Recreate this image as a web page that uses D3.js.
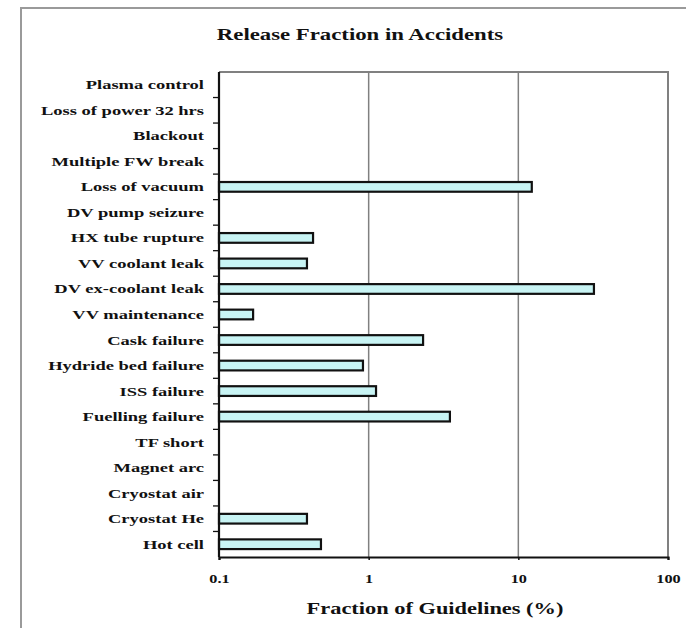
<!DOCTYPE html>
<html>
<head>
<meta charset="utf-8">
<script src="https://cdn.jsdelivr.net/npm/d3@7"></script>
<style>
  html, body { margin: 0; padding: 0; background: #fff; }
  svg { display: block; }
  text { font-family: "Liberation Serif", "Times New Roman", serif; font-weight: bold; fill: #111; }
</style>
</head>
<body>
<svg id="chart" width="686" height="628"></svg>
<script>
// Accident scenarios, top to bottom
const categories = [
  "Plasma control", "Loss of power 32 hrs", "Blackout", "Multiple FW break",
  "Loss of vacuum", "DV pump seizure", "HX tube rupture", "VV coolant leak",
  "DV ex-coolant leak", "VV maintenance", "Cask failure", "Hydride bed failure",
  "ISS failure", "Fuelling failure", "TF short", "Magnet arc", "Cryostat air",
  "Cryostat He", "Hot cell"
];
// Release as a fraction of guidelines (%); null = no release shown
const releaseValues = [
  null, null, null, null,
  12.3, null, 0.425, 0.387,
  32, 0.169, 2.31, 0.916,
  1.12, 3.49, null, null, null,
  0.387, 0.48
];
const xTickValues = [0.1, 1, 10, 100];
const xTickLabels = ["0.1", "1", "10", "100"];
const gridValues = [1, 10];

const chartTitle = "Release Fraction in Accidents";
const xAxisTitle = "Fraction of Guidelines (%)";

const svg = d3.select("#chart");
const plot = { left: 219, right: 668, top: 72, bottom: 557 };
const stretch = 1.37; // horizontal widening of lettering

// Outer frame (top and left edges)
svg.append("path")
  .attr("d", "M21,628 V8 H686")
  .attr("fill", "none").attr("stroke", "#9a9a9a").attr("stroke-width", 2);

const x = d3.scaleLog().domain([0.1, 100]).range([plot.left, plot.right]);
const y = d3.scaleBand().domain(categories).range([plot.top, plot.bottom]);

// Plot frame: top and right in grey
svg.append("path")
  .attr("d", `M${plot.left},${plot.top} H${plot.right} V${plot.bottom}`)
  .attr("fill", "none").attr("stroke", "#808080").attr("stroke-width", 2);

// Vertical gridlines
svg.append("g").selectAll("line").data(gridValues).join("line")
  .attr("x1", d => x(d)).attr("x2", d => x(d))
  .attr("y1", plot.top).attr("y2", plot.bottom)
  .attr("stroke", "#808080").attr("stroke-width", 1.5);

// Bars
const barH = y.bandwidth() * 0.38;
svg.append("g").selectAll("rect")
  .data(categories.map((c, i) => ({ c, v: releaseValues[i] })).filter(d => d.v != null))
  .join("rect")
  .attr("x", x(0.1))
  .attr("y", d => y(d.c) + (y.bandwidth() - barH) / 2)
  .attr("width", d => x(d.v) - x(0.1))
  .attr("height", barH)
  .attr("fill", "#c8f4f4")
  .attr("stroke", "#111").attr("stroke-width", 2.2);

// Bottom axis
const xAxis = d3.axisBottom(x).tickValues(xTickValues).tickSize(3).tickFormat((d, i) => "");
const gx = svg.append("g").attr("transform", `translate(0,${plot.bottom})`).call(xAxis);
gx.select(".domain").attr("stroke", "#111").attr("stroke-width", 2.2);
gx.selectAll(".tick line").attr("stroke", "#111").attr("stroke-width", 1.5);
gx.selectAll(".tick").append("text")
  .attr("transform", `translate(0,26) scale(1.3,1)`)
  .attr("text-anchor", "middle")
  .attr("font-size", 12.5)
  .text((d, i) => xTickLabels[i]);

// Left axis with ticks between categories
const gy = svg.append("g");
gy.append("line")
  .attr("x1", plot.left).attr("x2", plot.left)
  .attr("y1", plot.top).attr("y2", plot.bottom)
  .attr("stroke", "#111").attr("stroke-width", 2.2);
gy.selectAll("line.tk").data(categories.slice(1)).join("line").attr("class", "tk")
  .attr("x1", plot.left - 6).attr("x2", plot.left)
  .attr("y1", d => y(d)).attr("y2", d => y(d))
  .attr("stroke", "#111").attr("stroke-width", 1.3);
gy.selectAll("text").data(categories).join("text")
  .attr("transform", d => `translate(204,${y(d) + y.bandwidth() / 2 + 4.5}) scale(${stretch},1)`)
  .attr("text-anchor", "end")
  .attr("font-size", 13.5)
  .text(d => d);

// Titles
svg.append("text")
  .attr("transform", `translate(360,40) scale(1.34,1)`)
  .attr("text-anchor", "middle")
  .attr("font-size", 17)
  .text(chartTitle);

svg.append("text")
  .attr("transform", `translate(435,614) scale(1.4,1)`)
  .attr("text-anchor", "middle")
  .attr("font-size", 16)
  .text(xAxisTitle);
</script>
</body>
</html>
